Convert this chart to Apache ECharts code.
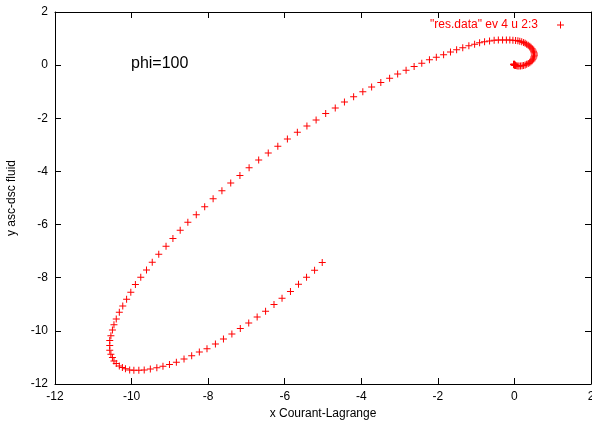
<!DOCTYPE html>
<html>
<head>
<meta charset="utf-8">
<script src="https://cdn.jsdelivr.net/npm/echarts@6/dist/echarts.min.js"></script>
<style>
html,body{margin:0;padding:0;background:#fff;}
#chart{width:592px;height:425px;}
</style>
</head>
<body>
<div id="chart"></div>
<script>
const xTicksMin = -12, xTicksMax = 2, xTickStep = 2;
const yTicksMin = -12, yTicksMax = 2, yTickStep = 2;
const seriesName = '"res.data" ev 4 u 2:3';
const annotation = 'phi=100';
const xTitle = 'x Courant-Lagrange';
const yTitle = 'y asc-dsc fluid';

const xValues = [-5.02,-5.22,-5.43,-5.64,-5.85,-6.07,-6.28,-6.50,-6.72,-6.94,-7.16,-7.38,-7.60,-7.81,-8.03,-8.23,-8.43,-8.63,-8.83,-9.01,-9.18,-9.34,-9.51,-9.67,-9.81,-9.94,-10.05,-10.16,-10.24,-10.32,-10.40,-10.46,-10.50,-10.54,-10.57,-10.57,-10.57,-10.54,-10.50,-10.46,-10.40,-10.32,-10.23,-10.13,-10.02,-9.90,-9.76,-9.61,-9.46,-9.29,-9.10,-8.92,-8.73,-8.53,-8.31,-8.09,-7.87,-7.64,-7.41,-7.17,-6.93,-6.68,-6.43,-6.18,-5.93,-5.67,-5.42,-5.18,-4.93,-4.68,-4.44,-4.20,-3.96,-3.73,-3.49,-3.26,-3.05,-2.83,-2.62,-2.42,-2.22,-2.04,-1.85,-1.67,-1.51,-1.35,-1.19,-1.04,-0.91,-0.78,-0.65,-0.53,-0.42,-0.31,-0.21,-0.12,-0.04,0.03,
0.09,0.14,0.19,0.24,0.28,0.32,0.36,0.40,0.43,0.46,0.48,0.50,0.51,0.52,0.52,0.51,0.50,0.48,0.46,0.43,0.40,0.36,0.32,0.28,0.24,0.20,0.16,0.12,0.09,0.06,0.03,0.01,-0.01,-0.02,-0.02,-0.01,0.00,0.01,0.01,0.00];
const yValues = [-7.43,-7.72,-7.98,-8.25,-8.52,-8.77,-9.01,-9.26,-9.48,-9.70,-9.91,-10.12,-10.31,-10.49,-10.67,-10.80,-10.94,-11.06,-11.18,-11.27,-11.33,-11.39,-11.44,-11.47,-11.48,-11.48,-11.47,-11.43,-11.38,-11.32,-11.23,-11.13,-11.00,-10.88,-10.73,-10.55,-10.36,-10.18,-9.97,-9.77,-9.55,-9.30,-9.06,-8.81,-8.55,-8.26,-7.98,-7.71,-7.42,-7.12,-6.82,-6.52,-6.21,-5.91,-5.63,-5.33,-5.03,-4.73,-4.44,-4.15,-3.86,-3.57,-3.31,-3.05,-2.78,-2.53,-2.29,-2.06,-1.82,-1.61,-1.39,-1.19,-1.00,-0.82,-0.65,-0.49,-0.33,-0.19,-0.05,0.07,0.20,0.30,0.39,0.49,0.58,0.65,0.73,0.79,0.84,0.88,0.91,0.94,0.95,0.95,0.95,0.95,0.94,0.93,
0.92,0.90,0.88,0.85,0.82,0.79,0.75,0.71,0.67,0.62,0.57,0.52,0.47,0.42,0.37,0.32,0.27,0.22,0.17,0.13,0.09,0.06,0.03,0.01,-0.01,-0.02,-0.03,-0.03,-0.03,-0.02,-0.01,0.00,0.01,0.02,0.03,0.03,0.03,0.02,0.01,0.01];

const points = xValues.map((x, i) => [x, yValues[i]]);

const FONT = "'Liberation Sans', Arial, sans-serif";
const PLUS = 'path://M3,0h1v3h3v1h-3v3h-1v-3h-3v-1h3z';

function axisBase(min, max, step, pos, showLabel) {
  return {
    type: 'value', min: min, max: max, interval: step, position: pos,
    axisLine: {show: true, onZero: false, lineStyle: {color: '#000', width: 1}},
    axisTick: {show: true, inside: true, length: 6, lineStyle: {color: '#000', width: 1}},
    axisLabel: {show: showLabel, color: '#000', fontSize: 12, fontFamily: FONT, margin: 7},
    splitLine: {show: false}
  };
}

const xMain = Object.assign(axisBase(xTicksMin, xTicksMax, xTickStep, 'bottom', true), {
  name: xTitle, nameLocation: 'middle', nameGap: 21,
  nameTextStyle: {color: '#000', fontSize: 12, fontFamily: FONT}
});
const xTop = axisBase(xTicksMin, xTicksMax, xTickStep, 'top', false);
const yMain = Object.assign(axisBase(yTicksMin, yTicksMax, yTickStep, 'left', true), {
  name: yTitle, nameLocation: 'middle', nameGap: 37,
  nameTextStyle: {color: '#000', fontSize: 12, fontFamily: FONT}
});
const yRight = axisBase(yTicksMin, yTicksMax, yTickStep, 'right', false);

const chart = echarts.init(document.getElementById('chart'), null, {renderer: 'canvas'});
chart.setOption({
  animation: false,
  backgroundColor: '#fff',
  grid: {left: 55, right: 1, top: 12, bottom: 41, containLabel: false, outerBoundsMode: 'none'},
  xAxis: [xMain, xTop],
  yAxis: [yMain, yRight],
  legend: {
    data: [{name: seriesName, icon: PLUS}],
    right: 28, top: 19, padding: 0,
    align: 'right', itemWidth: 7, itemHeight: 7,
    textStyle: {color: '#ff0000', fontSize: 12, fontFamily: FONT, padding: [0, 14, 0, 0]},
    selectedMode: false
  },
  graphic: [{
    type: 'text', left: 131, top: 56,
    style: {text: annotation, fill: '#000', font: '16px ' + FONT}
  }],
  series: [{
    name: seriesName, type: 'scatter', xAxisIndex: 0, yAxisIndex: 0,
    symbol: PLUS, symbolSize: 7,
    itemStyle: {color: '#ff0000', opacity: 1},
    emphasis: {disabled: true},
    data: points
  }]
});
</script>
</body>
</html>
